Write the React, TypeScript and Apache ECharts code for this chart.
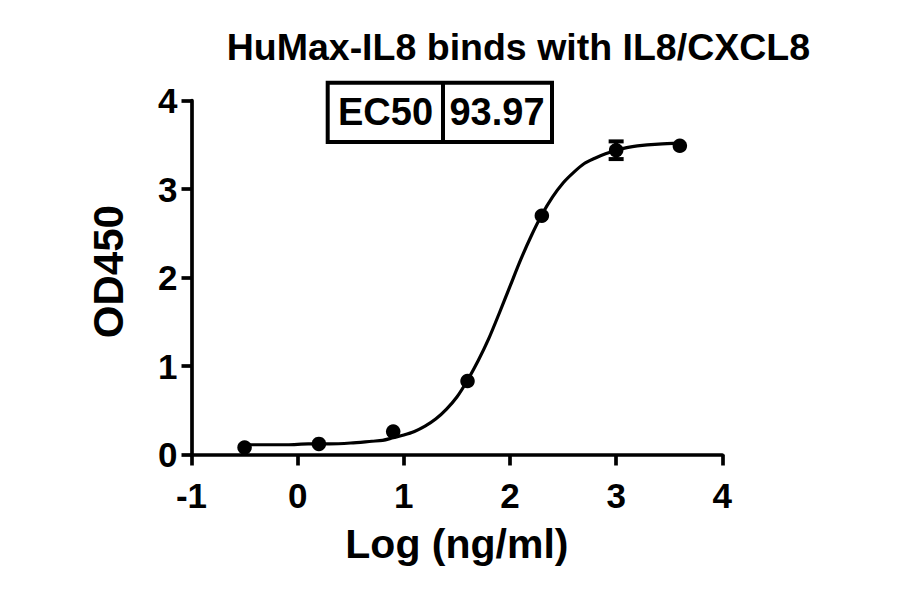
import React, { useEffect, useRef } from "react";
import * as echarts from "echarts";

// Measured points (log concentration, mean OD450)
const LOG_CONC = [-0.5, 0.2, 0.9, 1.6, 2.3, 3.0, 3.6];
const OD_MEAN = [0.08, 0.12, 0.26, 0.83, 2.7, 3.44, 3.49];

// Error bars (only visible at log = 3)
const ERR_X = [3.0];
const ERR_LOW = [3.34];
const ERR_HIGH = [3.54];

// Fitted curve
const FIT_X = [-0.5, -0.3, -0.1, 0.1, 0.3, 0.5, 0.7, 0.8, 0.9, 1.0, 1.1, 1.2, 1.3, 1.4, 1.5, 1.6, 1.7, 1.8, 1.9, 2.0, 2.1, 2.2, 2.3, 2.4, 2.5, 2.6, 2.7, 2.8, 2.9, 3.0, 3.1, 3.2, 3.4, 3.6];
const FIT_Y = [0.11, 0.11, 0.11, 0.12, 0.12, 0.13, 0.15, 0.16, 0.19, 0.22, 0.26, 0.32, 0.4, 0.51, 0.65, 0.84, 1.06, 1.31, 1.6, 1.9, 2.2, 2.47, 2.71, 2.91, 3.07, 3.19, 3.29, 3.35, 3.4, 3.44, 3.47, 3.49, 3.51, 3.52];

// Axes
const X_TICKS = [-1, 0, 1, 2, 3, 4];
const Y_TICKS = [0, 1, 2, 3, 4];

const TITLE = "HuMax-IL8 binds with IL8/CXCL8";
const X_NAME = "Log (ng/ml)";
const Y_NAME = "OD450";
const EC50_LABEL = "EC50";
const EC50_VALUE = "93.97";

const FONT = 'Arial, "Liberation Sans", Helvetica, sans-serif';

export default function App() {
  const ref = useRef<HTMLDivElement>(null);

  useEffect(() => {
    if (!ref.current) return;
    const chart = echarts.init(ref.current, null, { renderer: "svg" });

    const points = LOG_CONC.map((x, i) => [x, OD_MEAN[i]]);
    const fit = FIT_X.map((x, i) => [x, FIT_Y[i]]);
    const errs = ERR_X.map((x, i) => [x, ERR_LOW[i], ERR_HIGH[i]]);

    const option: any = {
      animation: false,
      backgroundColor: "#ffffff",
      textStyle: { fontFamily: FONT },
      title: {
        text: TITLE,
        left: 226.7,
        top: 28.4,
        padding: 0,
        textStyle: { fontFamily: FONT, fontSize: 37.5, fontWeight: "bold", color: "#000" },
      },
      grid: {
        left: 191.5,
        right: 177.7,
        top: 100.7,
        bottom: 139.5,
        containLabel: false,
        outerBoundsMode: "none",
      },
      xAxis: {
        type: "value",
        min: X_TICKS[0],
        max: X_TICKS[X_TICKS.length - 1],
        interval: 1,
        name: X_NAME,
        nameLocation: "middle",
        nameGap: 69,
        nameTextStyle: { fontFamily: FONT, fontSize: 41, fontWeight: "bold", color: "#000" },
        axisLine: { show: true, onZero: false, lineStyle: { color: "#000", width: 3.7 } },
        axisTick: { show: true, length: 11, lineStyle: { color: "#000", width: 3.7 } },
        axisLabel: { margin: 23, fontFamily: FONT, fontSize: 35, fontWeight: "bold", color: "#000" },
        splitLine: { show: false },
      },
      yAxis: {
        type: "value",
        min: Y_TICKS[0],
        max: Y_TICKS[Y_TICKS.length - 1],
        interval: 1,
        name: Y_NAME,
        nameLocation: "middle",
        nameGap: 62,
        nameRotate: 90,
        nameTextStyle: { fontFamily: FONT, fontSize: 42, fontWeight: "bold", color: "#000", padding: [0, 0, 0, 12] },
        axisLine: { show: true, onZero: false, lineStyle: { color: "#000", width: 3.7 } },
        axisTick: { show: true, length: 10, lineStyle: { color: "#000", width: 3.7 } },
        axisLabel: { margin: 14, fontFamily: FONT, fontSize: 35, fontWeight: "bold", color: "#000" },
        splitLine: { show: false },
      },
      graphic: [
        {
          type: "group",
          children: [
            {
              type: "rect",
              shape: { x: 327.7, y: 82.7, width: 224.3, height: 59.3 },
              style: { fill: "#fff", stroke: "#000", lineWidth: 4 },
            },
            {
              type: "line",
              shape: { x1: 443, y1: 82.7, x2: 443, y2: 142 },
              style: { stroke: "#000", lineWidth: 4 },
            },
            {
              type: "text",
              x: 385.5,
              y: 112,
              style: {
                text: EC50_LABEL,
                align: "center",
                verticalAlign: "middle",
                font: `bold 38px ${FONT}`,
                fill: "#000",
              },
            },
            {
              type: "text",
              x: 497,
              y: 112,
              style: {
                text: EC50_VALUE,
                align: "center",
                verticalAlign: "middle",
                font: `bold 38px ${FONT}`,
                fill: "#000",
              },
            },
          ],
        },
      ],
      series: [
        {
          name: "Fit",
          type: "line",
          data: fit,
          smooth: 0.3,
          showSymbol: false,
          symbol: "none",
          lineStyle: { color: "#000", width: 3.2 },
          z: 2,
        },
        {
          name: "Error",
          type: "custom",
          data: errs,
          z: 3,
          renderItem: (params: any, api: any) => {
            const x = api.value(0);
            const lo = api.coord([x, api.value(1)]);
            const hi = api.coord([x, api.value(2)]);
            const hw = 7.5;
            const st = { stroke: "#000", lineWidth: 4 };
            return {
              type: "group",
              children: [
                { type: "line", shape: { x1: lo[0], y1: lo[1], x2: hi[0], y2: hi[1] }, style: st },
                { type: "line", shape: { x1: lo[0] - hw, y1: lo[1], x2: lo[0] + hw, y2: lo[1] }, style: st },
                { type: "line", shape: { x1: hi[0] - hw, y1: hi[1], x2: hi[0] + hw, y2: hi[1] }, style: st },
              ],
            };
          },
        },
        {
          name: "OD450",
          type: "scatter",
          data: points,
          symbol: "circle",
          symbolSize: 14.5,
          itemStyle: { color: "#000", opacity: 1 },
          z: 4,
        },
      ],
    };

    chart.setOption(option);
    return () => chart.dispose();
  }, []);

  return (
    <div
      ref={ref}
      style={{ position: "fixed", left: 0, top: 0, width: 900, height: 594, background: "#fff" }}
    />
  );
}
